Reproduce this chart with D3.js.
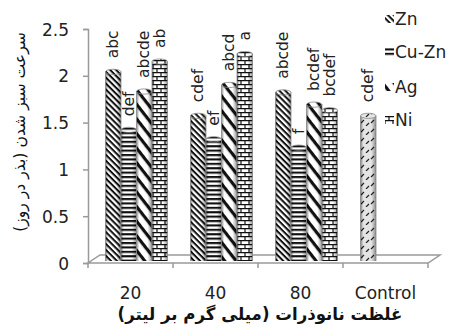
<!DOCTYPE html>
<html><head><meta charset="utf-8">
<script src="https://cdn.jsdelivr.net/npm/d3@7"></script>
<style>body{margin:0;background:#fff}svg{display:block}</style></head>
<body>
<svg id="c" width="454" height="328"></svg>
<script>
// ---- data ----
const categories = ["20", "40", "80", "Control"];
const seriesNames = ["Zn", "Cu-Zn", "Ag", "Ni"];
const znValues   = [2.07, 1.60, 1.85, null];
const cuznValues = [1.45, 1.35, 1.26, null];
const agValues   = [1.86, 1.93, 1.72, null];
const niValues   = [2.18, 2.26, 1.66, null];
const controlValues = [null, null, null, 1.60];
const znLetters   = ["abc", "cdef", "abcde", null];
const cuznLetters = ["def", "ef", "f", null];
const agLetters   = ["abcde", "abcd", "bcdef", null];
const niLetters   = ["ab", "a", "bcdef", null];
const controlLetters = [null, null, null, "cdef"];
const yTicks = [0, 0.5, 1, 1.5, 2, 2.5];
const yTitle = "سرعت سبز شدن (بذر در روز)";
const xTitle = "غلظت نانوذرات (میلی گرم بر لیتر)";

const series = [
  {name: seriesNames[0], values: znValues, letters: znLetters, pat: "pZn", slot: 0},
  {name: seriesNames[1], values: cuznValues, letters: cuznLetters, pat: "pCu", slot: 1},
  {name: seriesNames[2], values: agValues, letters: agLetters, pat: "pAg", slot: 2},
  {name: seriesNames[3], values: niValues, letters: niLetters, pat: "pNi", slot: 3},
  {name: "Control", values: controlValues, letters: controlLetters, pat: "pCt", slot: 0}
];

const svg = d3.select("#c");
const defs = svg.append("defs");
const FONT = "'DejaVu Sans', sans-serif";

// patterns
function stripes(id, h, w, angle) {
  const p = defs.append("pattern").attr("id", id).attr("patternUnits", "userSpaceOnUse")
    .attr("width", 10).attr("height", h).attr("patternTransform", `rotate(${angle})`);
  p.append("rect").attr("width", 10).attr("height", h).attr("fill", "#fff");
  p.append("rect").attr("width", 10).attr("height", w).attr("fill", "#111");
}
stripes("pZn", 4.2, 2, 45);
stripes("pAg", 9, 3.2, 52);
stripes("pCu", 4.4, 2.1, 0);
(function(){
  const p = defs.append("pattern").attr("id", "pNi").attr("patternUnits", "userSpaceOnUse")
    .attr("width", 8).attr("height", 8);
  p.append("rect").attr("width", 8).attr("height", 8).attr("fill", "#fff");
  p.append("path").attr("d", "M0,0.6H8M0,4.6H8M1,0.6V4.6M5,4.6V8.6").attr("stroke", "#111").attr("stroke-width", 1.2).attr("fill", "none");
  const q = defs.append("pattern").attr("id", "pCt").attr("patternUnits", "userSpaceOnUse")
    .attr("width", 10).attr("height", 9);
  q.append("rect").attr("width", 10).attr("height", 9).attr("fill", "#e4e4e4");
  q.append("path").attr("d", "M1,6L4,3M6,9L9,6").attr("stroke", "#222").attr("stroke-width", 1.2);
})();
const grad = defs.append("linearGradient").attr("id", "cyl").attr("x1", 0).attr("x2", 1).attr("y1", 0).attr("y2", 0);
[[0, 0.45], [0.18, 0], [0.7, 0], [1, 0.4]].forEach(([o, a]) =>
  grad.append("stop").attr("offset", o).attr("stop-color", "#000").attr("stop-opacity", a));

// scales
const x0 = 88, x1 = 428, yBase = 263, yTop = 29;
const x = d3.scaleBand().domain(categories).range([x0, x1]).padding(0);
const groupW = 62, depthShift = 6;
const xs = d3.scaleBand().domain([0, 1, 2, 3]).range([0, groupW]).padding(0);
const y = d3.scaleLinear().domain([0, 2.5]).range([yBase, yTop]);
const AX = "#9a9a9a";

// floor (3D)
const dx = 12, dy = 8;
svg.append("path")
  .attr("d", `M${x0},${yBase}L${x1},${yBase}L${x1 + dx},${yBase - dy}L${x0 + dx},${yBase - dy}Z`)
  .attr("fill", "#fff").attr("stroke", AX).attr("stroke-width", 1.5);

// y axis
const yAxis = d3.axisLeft(y).tickValues(yTicks).tickSize(5).tickFormat(d3.format("~g"));
const gy = svg.append("g").attr("transform", `translate(${x0},0)`).call(yAxis);
gy.select(".domain").attr("stroke", AX).attr("stroke-width", 1.5);
gy.selectAll(".tick line").attr("stroke", AX).attr("stroke-width", 1.5);
gy.selectAll(".tick text").attr("x", -19).attr("dy", "0.36em").attr("font-family", FONT)
  .attr("font-size", 17).attr("fill", "#222");

// x axis ticks
const tickXs = categories.map(c => x(c)).concat([x1]);
svg.selectAll("line.xt").data(tickXs).enter().append("line")
  .attr("x1", d => d).attr("x2", d => d).attr("y1", yBase).attr("y2", yBase + 5)
  .attr("stroke", AX).attr("stroke-width", 1.5);
svg.selectAll("text.xl").data(categories).enter().append("text")
  .attr("x", d => x(d) + x.bandwidth() / 2).attr("y", 299)
  .attr("text-anchor", "middle").attr("font-family", FONT).attr("font-size", 17).attr("fill", "#222")
  .text(d => d);

// bars
const barW = xs.bandwidth();
const ry = 2.6;
series.forEach(s => {
  categories.forEach((c, i) => {
    const v = s.values[i];
    if (v == null) return;
    const bx = x(c) + (x.bandwidth() - groupW) / 2 + depthShift + xs(s.slot);
    const top = y(v) + ry;
    const bottom = yBase - 2;
    const g = svg.append("g");
    g.append("rect").attr("x", bx).attr("y", top).attr("width", barW).attr("height", bottom - top)
      .attr("fill", `url(#${s.pat})`);
    g.append("rect").attr("x", bx).attr("y", top).attr("width", barW).attr("height", bottom - top)
      .attr("fill", "url(#cyl)");
    g.append("path").attr("d", `M${bx},${top}V${bottom}M${bx + barW},${top}V${bottom}`)
      .attr("stroke", "#888").attr("stroke-width", 0.8);
    g.append("ellipse").attr("cx", bx + barW / 2).attr("cy", top).attr("rx", barW / 2).attr("ry", ry)
      .attr("fill", `url(#${s.pat})`).attr("stroke", "#888").attr("stroke-width", 0.8);
    const lab = s.letters[i];
    if (lab) {
      const lx = bx + barW / 2 + 5, ly = y(v) - 11;
      svg.append("text").attr("transform", `translate(${lx},${ly}) rotate(-90)`)
        .attr("font-family", FONT).attr("font-size", 15.5).attr("fill", "#222").text(lab);
    }
  });
});

// legend
const legY = [19, 52, 87, 120];
series.slice(0, 4).forEach((s, i) => {
  svg.append("rect").attr("x", 385).attr("y", legY[i] - 4).attr("width", 9).attr("height", 8)
    .attr("fill", `url(#${s.pat})`);
  svg.append("text").attr("x", 395).attr("y", legY[i]).attr("dy", "0.36em")
    .attr("font-family", FONT).attr("font-size", 17).attr("fill", "#222").text(s.name);
});

// titles
function fitText(sel, target) {
  const w = sel.node().getComputedTextLength();
  return w > 0 ? target / w : 1;
}
const xt = svg.append("text").attr("text-anchor", "middle").attr("font-family", FONT)
  .attr("font-weight", "bold").attr("font-size", 17).attr("fill", "#111").attr("direction", "rtl").text(xTitle);
const sx = fitText(xt, 285);
xt.attr("transform", `translate(260,320) scale(${sx},1)`);
const yt = svg.append("text").attr("text-anchor", "middle").attr("font-family", FONT)
  .attr("font-size", 16).attr("fill", "#111").attr("direction", "rtl").text(yTitle);
const sy = fitText(yt, 200);
yt.attr("transform", `translate(25,132) rotate(-90) scale(${sy},1)`);
</script>
</body></html>
